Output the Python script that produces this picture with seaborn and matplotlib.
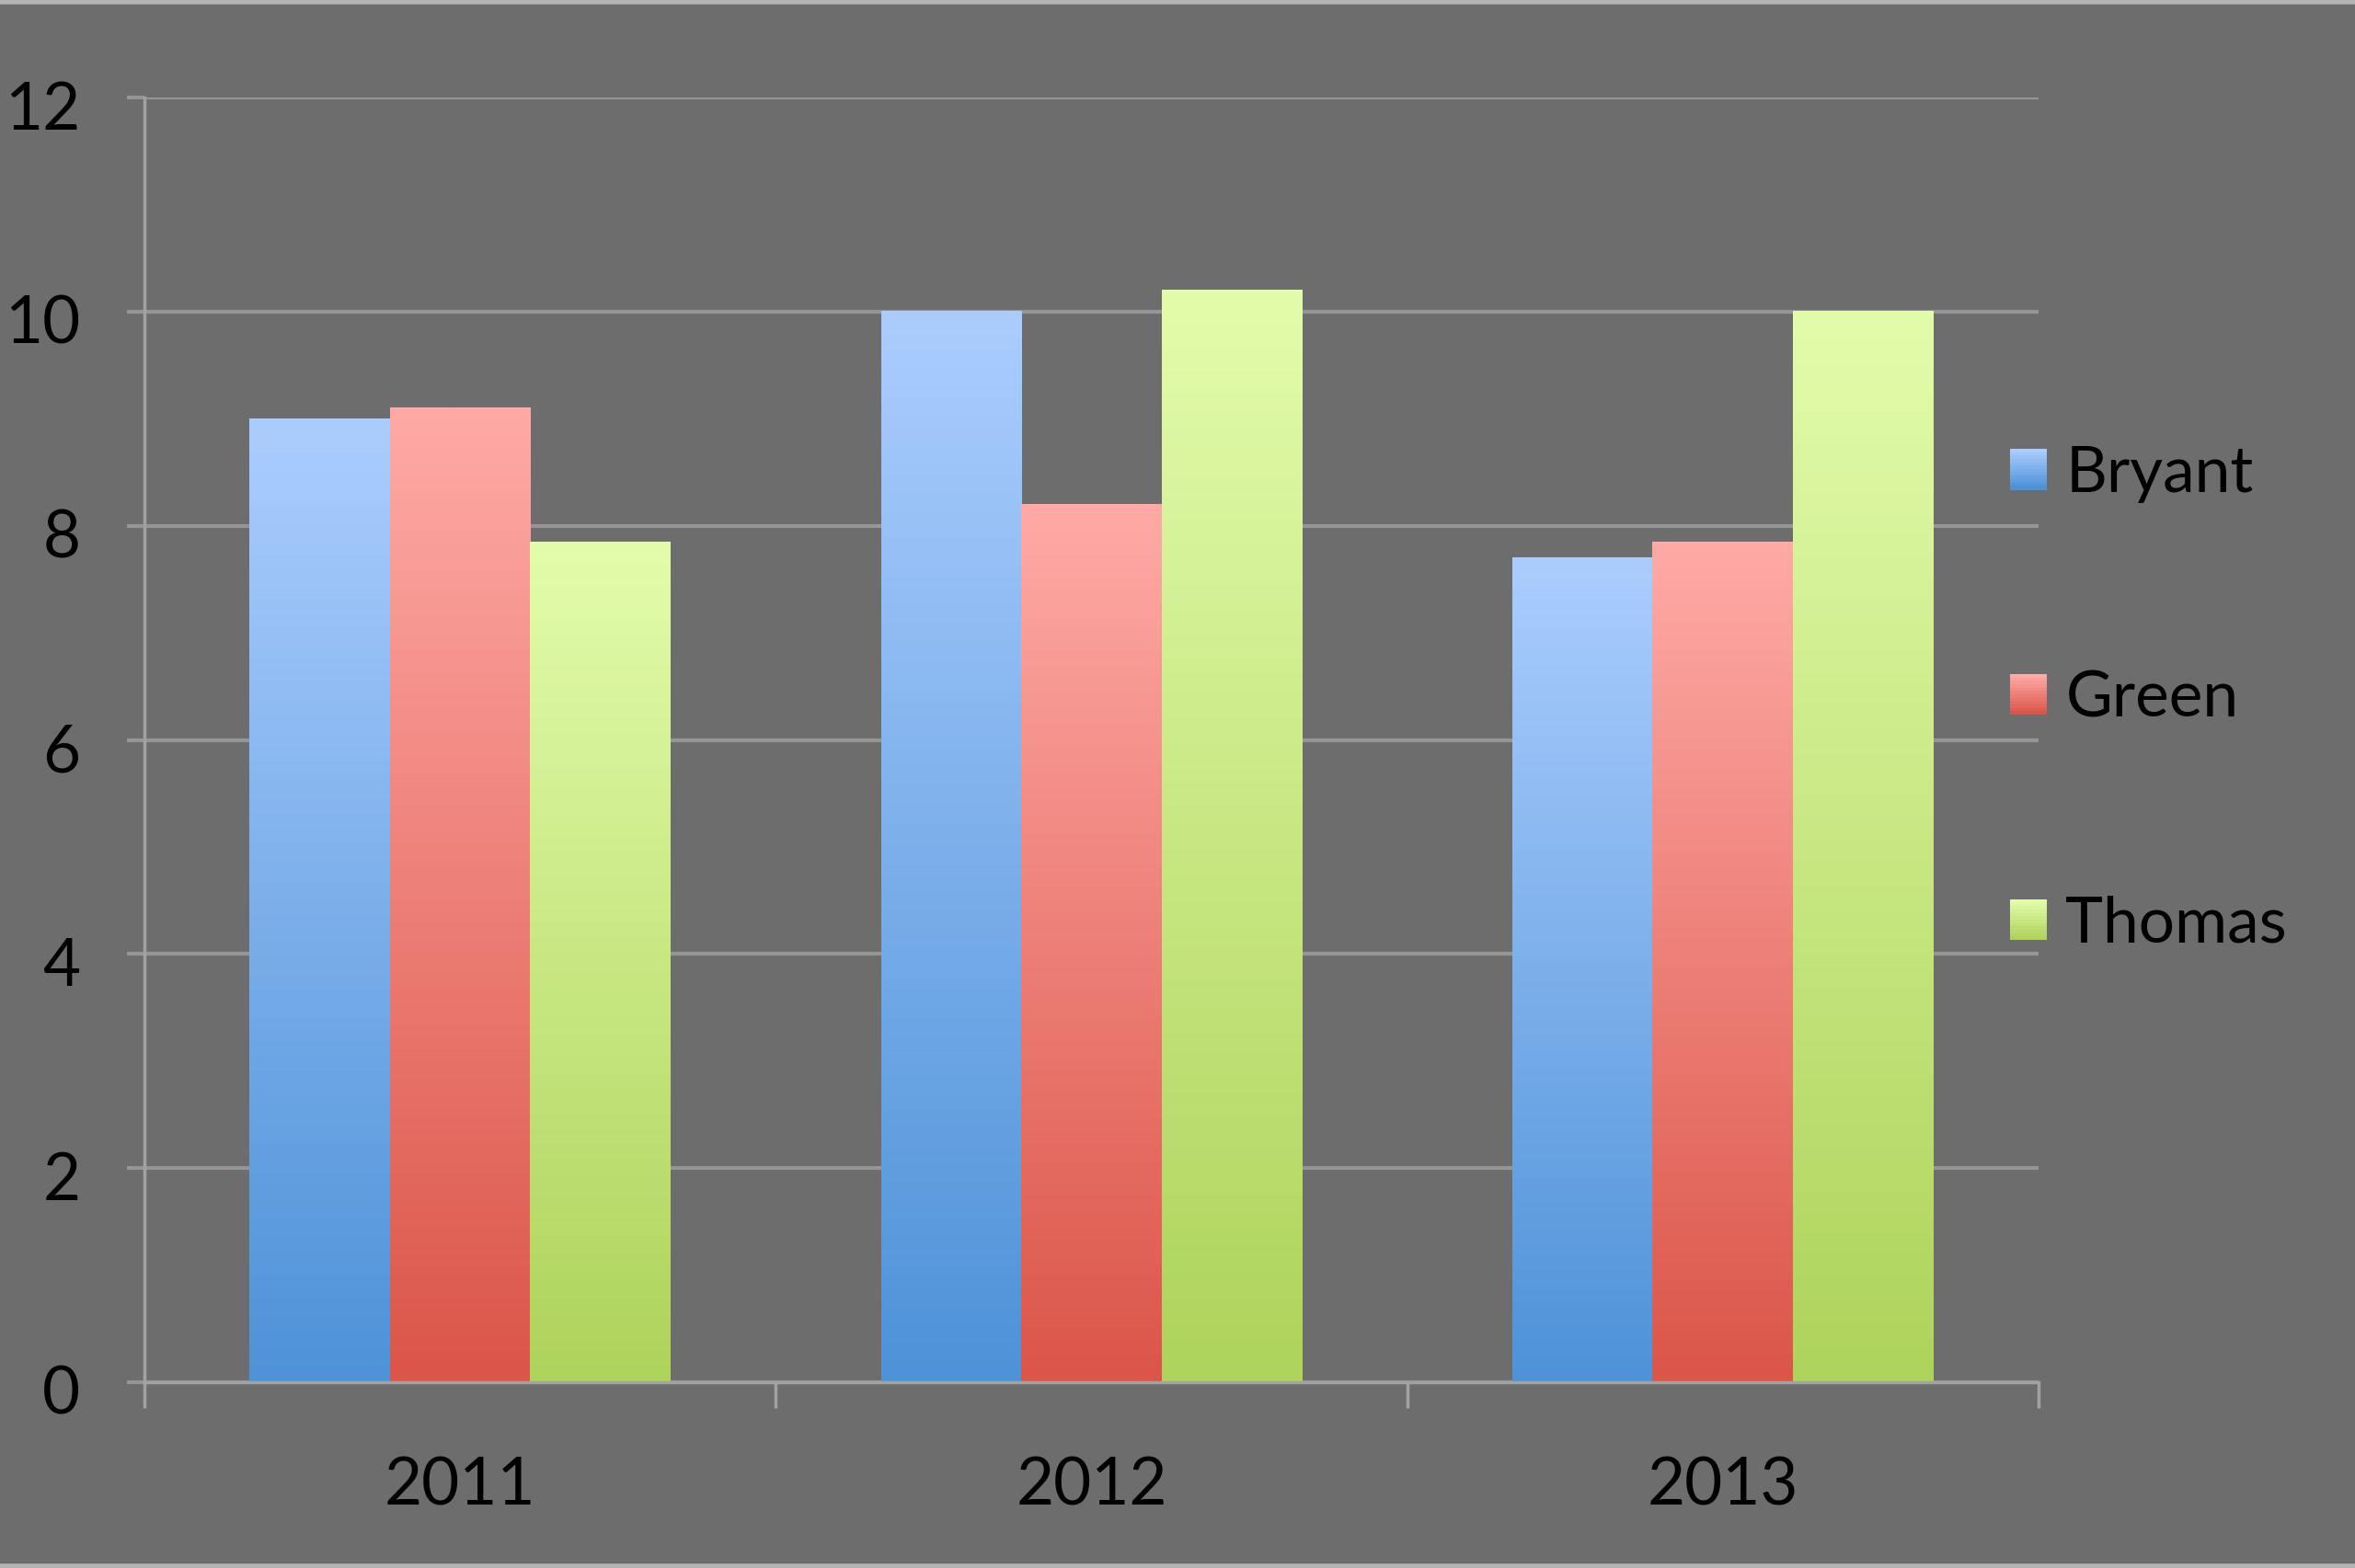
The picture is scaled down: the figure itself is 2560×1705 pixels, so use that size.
# Grouped bar chart: Bryant / Green / Thomas scores 2011-2013 (Excel style, gradient bars)

import numpy as np
import pandas as pd
import seaborn as sns
import matplotlib.pyplot as plt
import matplotlib.transforms as mtransforms
from matplotlib.colors import to_rgb
from matplotlib.patches import Rectangle
from matplotlib.legend_handler import HandlerBase
from matplotlib.lines import Line2D

years = ['2011', '2012', '2013']
names = ['Bryant', 'Green', 'Thomas']
bryant = [9.0, 10.0, 7.7]
green = [9.1, 8.2, 7.85]
thomas = [7.85, 10.2, 10.0]

# light (top) / dark (bottom) colours for each series
tops = ['#abcdfe', '#ffaaa6', '#e3fcab']
bottoms = ['#4e92d8', '#db5549', '#aed35b']

df = pd.DataFrame({
    'year': years * 3,
    'name': [n for n in names for _ in years],
    'value': bryant + green + thomas,
})

bg = '#6d6d6d'
grid_col = '#959595'

sns.set_theme(style='white')
plt.rcParams['font.family'] = ['Lato', 'DejaVu Sans']

fig = plt.figure(figsize=(25.6, 17.05), dpi=100, facecolor=bg)
ax = fig.add_axes([0.0613, 0.1185, 0.8043, 0.8193])
ax.set_facecolor(bg)

sns.barplot(data=df, x='year', y='value', hue='name', hue_order=names,
            palette=bottoms, width=0.667, gap=0, saturation=1,
            edgecolor='none', legend=False, ax=ax)


def gradient(top, bottom, n=256):
    t = np.linspace(0, 1, n)[:, None]
    a, b = np.array(to_rgb(top)), np.array(to_rgb(bottom))
    return (a * (1 - t) + b * t)[:, None, :]


for cont, top, bot in zip(ax.containers, tops, bottoms):
    for bar in cont:
        x, w, h = bar.get_x(), bar.get_width(), bar.get_height()
        ax.imshow(gradient(top, bot), extent=[x, x + w, 0, h],
                  aspect='auto', interpolation='bilinear', zorder=2)
        bar.set_facecolor('none')

ax.set_xlim(-0.5, 2.5)
ax.set_ylim(0, 12)
ax.set_yticks(range(0, 13, 2))
ax.set_xticks([-0.5, 0.5, 1.5, 2.5], minor=True)
ax.set_xlabel('')
ax.set_ylabel('')

ax.set_axisbelow(True)
ax.grid(True, axis='y', color=grid_col, linewidth=3)
for s in ['top', 'right']:
    ax.spines[s].set_visible(False)
for s in ['left', 'bottom']:
    ax.spines[s].set_color('#a2a2a2')
    ax.spines[s].set_linewidth(2.5)

ax.tick_params(axis='y', which='major', direction='out', length=14, width=3,
               color=grid_col, pad=36, labelsize=51, labelcolor='black', left=True)
ax.tick_params(axis='x', which='major', length=0, pad=58, labelsize=51,
               labelcolor='black')
ax.tick_params(axis='x', which='minor', direction='out', length=20, width=2.5,
               color='#a2a2a2', bottom=True)

# y labels sit a little below their gridlines in the original
shift = mtransforms.ScaledTranslation(0, -6 / 72, fig.dpi_scale_trans)
for lab in ax.get_yticklabels():
    lab.set_transform(lab.get_transform() + shift)


class GradientHandler(HandlerBase):
    def __init__(self, top, bot):
        super().__init__()
        self.top, self.bot = top, bot

    def create_artists(self, legend, orig_handle, xdescent, ydescent,
                       width, height, fontsize, trans):
        n = 12
        cols = gradient(self.top, self.bot, n)[:, 0, :]
        arts = []
        for i in range(n):
            y0 = -ydescent + height * (1 - (i + 1) / n)
            arts.append(Rectangle((-xdescent, y0), width, height / n + 0.3,
                                  facecolor=cols[i], edgecolor='none',
                                  transform=trans))
        return arts


handles = [Rectangle((0, 0), 1, 1) for _ in names]
leg = fig.legend(handles, names, loc='center left',
                 bbox_to_anchor=(0.8535, 0.554), bbox_transform=fig.transFigure,
                 frameon=False, fontsize=50, borderpad=0, borderaxespad=0,
                 handlelength=0.57, handleheight=0.6, handletextpad=0.3,
                 labelspacing=2.62,
                 handler_map={h: GradientHandler(t, b)
                              for h, t, b in zip(handles, tops, bottoms)})
for t in leg.get_texts():
    t.set_color('black')

# thin light border at top and bottom of the picture
fig.add_artist(Line2D([0, 1], [0.999, 0.999], transform=fig.transFigure,
                      color='#b3b3b3', linewidth=4))
fig.add_artist(Line2D([0, 1], [0.001, 0.001], transform=fig.transFigure,
                      color='#b3b3b3', linewidth=4))

fig.savefig('out.png', dpi=100, facecolor=bg)
